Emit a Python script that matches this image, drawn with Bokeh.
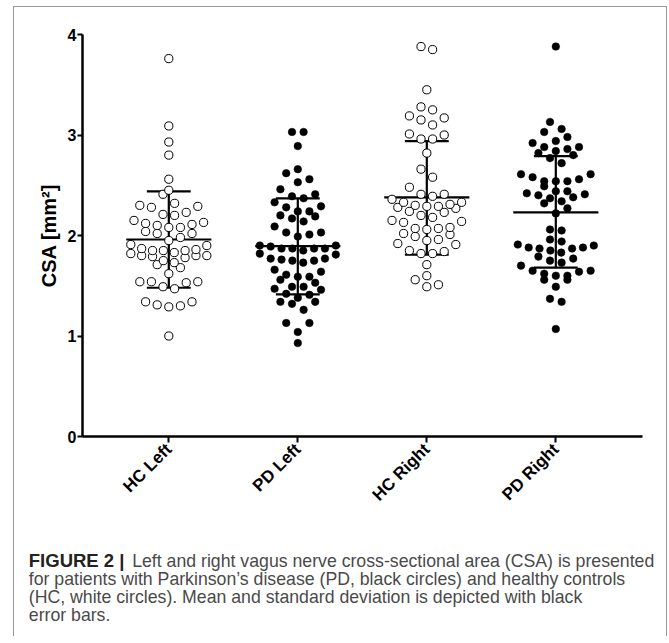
import numpy as np
from bokeh.plotting import figure
from bokeh.models import Range1d, FixedTicker, ColumnDataSource
from bokeh.layouts import column
from bokeh.core.properties import value
from bokeh.embed import file_html
from bokeh.resources import INLINE

# ---------------- data ----------------
categories = ["HC Left", "PD Left", "HC Right", "PD Right"]

hc_left = [3.76, 3.09, 2.93, 2.80, 2.56, 2.45, 2.41, 2.29, 2.28, 2.30, 2.32, 2.23,
           2.20, 2.21, 2.15, 2.13, 2.11, 2.08, 2.04, 2.02, 2.02, 2.08, 2.10, 2.12,
           1.98, 1.95, 1.90, 1.87, 1.91, 1.86, 1.85, 1.83, 1.80, 1.80, 1.78, 1.79,
           1.80, 1.82, 1.85, 1.85, 1.75, 1.73, 1.71, 1.68, 1.62, 1.54, 1.53, 1.47,
           1.49, 1.54, 1.54, 1.34, 1.30, 1.29, 1.31, 1.34, 1.00]

pd_left = [3.03, 3.03, 2.89, 2.66, 2.62, 2.56, 2.53, 2.46, 2.41, 2.37, 2.39, 2.33,
           2.28, 2.29, 2.24, 2.24, 2.19, 2.20, 2.17, 2.14, 2.09, 2.03, 2.01, 2.03,
           1.99, 1.90, 1.87, 1.87, 1.85, 1.81, 1.82, 1.87, 1.87, 1.89, 1.90, 1.77,
           1.75, 1.73, 1.75, 1.76, 1.77, 1.66, 1.61, 1.59, 1.56, 1.59, 1.64, 1.53,
           1.49, 1.46, 1.47, 1.49, 1.41, 1.42, 1.34, 1.38, 1.32, 1.34, 1.26, 1.13,
           1.13, 1.04, 0.93]

hc_right = [3.85, 3.88, 3.45, 3.25, 3.28, 3.19, 3.15, 3.17, 3.10, 3.00, 2.96, 2.96,
            3.01, 2.82, 2.66, 2.58, 2.48, 2.41, 2.36, 2.33, 2.33, 2.39, 2.41, 2.30,
            2.29, 2.27, 2.23, 2.20, 2.24, 2.28, 2.29, 2.31, 2.18, 2.14, 2.13, 2.15,
            2.06, 2.08, 2.07, 2.07, 2.02, 2.01, 1.99, 1.96, 1.95, 1.91, 1.92, 1.84,
            1.82, 1.85, 1.82, 1.71, 1.56, 1.60, 1.49, 1.51]

pd_right = [3.88, 3.13, 3.03, 3.06, 2.94, 2.98, 2.92, 2.88, 2.86, 2.88, 2.84, 2.82,
            2.77, 2.80, 2.72, 2.61, 2.61, 2.58, 2.54, 2.54, 2.54, 2.56, 2.49, 2.44,
            2.41, 2.38, 2.34, 2.37, 2.40, 2.42, 2.44, 2.32, 2.27, 2.22, 2.05, 2.06,
            1.96, 1.91, 1.85, 1.88, 1.87, 1.87, 1.88, 1.90, 1.94, 1.83, 1.79, 1.75,
            1.77, 1.73, 1.70, 1.65, 1.64, 1.62, 1.65, 1.60, 1.56, 1.56, 1.60, 1.49,
            1.37, 1.34, 1.07]

group_means = [1.96, 1.895, 2.38, 2.23]
group_sd_hi = [2.44, 2.37, 2.94, 2.79]
group_sd_lo = [1.48, 1.415, 1.81, 1.68]

y_ticks = [0, 1, 2, 3, 4]
y_label = "CSA [mm²]"

caption_bold = "FIGURE 2 |"
caption_lines = [
    "Left and right vagus nerve cross-sectional area (CSA) is presented",
    "for patients with Parkinson’s disease (PD, black circles) and healthy controls",
    "(HC, white circles). Mean and standard deviation is depicted with black",
    "error bars.",
]

# ---------------- layout helpers ----------------
PX_PER_CAT = 129.0
ROW_SPAN = 0.1
STEP_PX = 11.6
MAX_ROW_PX = 76.0


def swarm(vals, center):
    """Prism-like scatter dot layout: values grouped in rows, spread around centre."""
    order = sorted(vals)
    rows, cur = [], []
    for v in order:
        if cur and v - cur[0] > ROW_SPAN:
            rows.append(cur)
            cur = []
        cur.append(v)
    if cur:
        rows.append(cur)
    xs, ys = [], []
    for r in rows:
        n = len(r)
        step = min(STEP_PX, MAX_ROW_PX / (n - 1)) if n > 1 else 0.0
        slots = []
        if n % 2:
            slots.append(0)
            k = 1
            while len(slots) < n:
                slots += [k, -k]
                k += 1
        else:
            k = 0.5
            while len(slots) < n:
                slots += [k, -k]
                k += 1
        for v, s in zip(r, slots[:n]):
            xs.append(center + s * step / PX_PER_CAT)
            ys.append(v)
    return xs, ys


FONT = "Liberation Sans"

p = figure(frame_width=560, frame_height=402,
           x_range=Range1d(0.331, 4.672), y_range=Range1d(0, 4),
           output_backend="svg", toolbar_location=None,
           min_border_left=68, min_border_right=24, min_border_top=27,
           min_border_bottom=94)
p.grid.visible = False
p.outline_line_color = None
p.background_fill_color = "white"
p.border_fill_color = "white"

# error bars (drawn first, dots on top)
centers = np.arange(1, len(categories) + 1)
mw, cw = 0.33, 0.17
eb = ColumnDataSource(dict(c=centers, m=group_means, hi=group_sd_hi, lo=group_sd_lo,
                           ml=centers - mw, mr=centers + mw, cl=centers - cw, cr=centers + cw))
p.segment(x0="ml", x1="mr", y0="m", y1="m", source=eb, line_color="black", line_width=2.2)
p.segment(x0="cl", x1="cr", y0="hi", y1="hi", source=eb, line_color="black", line_width=2.2)
p.segment(x0="cl", x1="cr", y0="lo", y1="lo", source=eb, line_color="black", line_width=2.2)
p.segment(x0="c", x1="c", y0="lo", y1="hi", source=eb, line_color="black", line_width=2.2)

groups = [hc_left, pd_left, hc_right, pd_right]
for i, vals in enumerate(groups):
    xs, ys = swarm(vals, i + 1)
    if i % 2 == 0:
        p.scatter(xs, ys, marker="circle", size=8.2, fill_color="white",
                  line_color="black", line_width=1.0)
    else:
        p.scatter(xs, ys, marker="circle", size=7.6, fill_color="black",
                  line_color="black", line_width=0.5)

# axes
for ax in (p.xaxis, p.yaxis):
    ax.axis_line_width = 2.5
    ax.axis_line_color = "black"
    ax.major_tick_line_width = 2
    ax.major_tick_line_color = "black"
    ax.minor_tick_line_color = None
    ax.major_tick_in = 0
    ax.major_label_text_font = FONT
    ax.major_label_text_font_style = "bold"
    ax.major_label_text_color = "black"

p.yaxis.ticker = FixedTicker(ticks=y_ticks)
p.yaxis.major_tick_out = 5
p.yaxis.major_label_standoff = 1
p.yaxis.major_label_text_font_size = "16px"
p.yaxis.axis_label = y_label
p.yaxis.axis_label_text_font = FONT
p.yaxis.axis_label_text_font_style = "bold"
p.yaxis.axis_label_text_font_size = "20px"
p.yaxis.axis_label_text_color = "black"
p.yaxis.axis_label_standoff = 5

p.xaxis.ticker = FixedTicker(ticks=list(centers))
p.xaxis.major_label_overrides = {int(c): lab for c, lab in zip(centers, categories)}
p.xaxis.major_tick_out = 6
p.xaxis.major_label_orientation = np.pi / 4
p.xaxis.major_label_text_font_size = "17px"
p.xaxis.major_label_standoff = 4

# caption figure (pixel coordinates, origin bottom-left)
CW, CH = 652, 106
cap = figure(width=CW, height=CH, x_range=Range1d(0, CW), y_range=Range1d(0, CH),
             x_axis_type=None, y_axis_type=None, min_border=0,
             output_backend="svg", toolbar_location=None)
cap.grid.visible = False
cap.outline_line_color = None
cap.background_fill_color = "white"
cap.border_fill_color = "white"
cap.text(x=[14.3], y=[76], text=[caption_bold], text_font=value(FONT),
         text_font_style="bold", text_font_size="18.5px", text_color="#222222",
         text_baseline="alphabetic")
cap.text(x=[117.7, 14.3, 14.3, 14.3], y=[76, 58, 40, 22], text=caption_lines,
         text_font=value(FONT), text_font_size="17.7px", text_color="#4a4a4a",
         text_baseline="alphabetic")

layout = column(p, column(cap), spacing=0,
                styles={"border-left": "1px solid #999999",
                        "border-right": "1px solid #999999",
                        "border-top": "1px solid #999999",
                        "margin-left": "13px", "margin-top": "6px"})

open("out.html", "w").write(file_html(layout, INLINE))
